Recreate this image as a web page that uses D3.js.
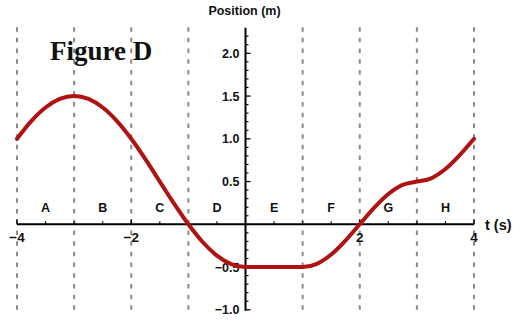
<!DOCTYPE html>
<html>
<head>
<meta charset="utf-8">
<script src="https://cdn.jsdelivr.net/npm/d3@7"></script>
<style>
html,body{margin:0;padding:0;background:#fff;}
svg{display:block;}
text{font-family:"Liberation Sans",Arial,sans-serif;font-weight:bold;fill:#111;}
</style>
</head>
<body>
<svg id="chart" width="527" height="329"></svg>
<script>
// Data
const times = [-4,-3.75,-3.5,-3.25,-3,-2.75,-2.5,-2.25,-2,-1.75,-1.5,-1.25,-1,-0.75,-0.5,-0.25,0,0.25,0.5,0.75,1,1.25,1.5,1.75,2,2.25,2.5,2.75,3,3.25,3.5,3.75,4];
const positions = [1.0,1.207,1.366,1.466,1.5,1.466,1.366,1.207,1.0,0.759,0.5,0.241,0,-0.207,-0.366,-0.466,-0.5,-0.5,-0.5,-0.5,-0.5,-0.462,-0.354,-0.191,0,0.191,0.354,0.462,0.5,0.538,0.646,0.809,1.0];
const intervalLabels = ["A","B","C","D","E","F","G","H"];
const intervalCenters = [-3.5,-2.5,-1.5,-0.5,0.5,1.5,2.5,3.5];
const dividerTimes = [-4,-3,-2,-1,1,2,3,4];
const xTickValues = [-4,-2,2,4];
const xTickLabels = ["\u22124","\u22122","2","4"];
const xMinorTicks = [-3.5,-3,-2.5,-1.5,-1,-0.5,0.5,1,1.5,2.5,3,3.5];
const yTickValues = [-1,-0.5,0.5,1,1.5,2];
const yTickLabels = ["\u22121.0","\u22120.5","0.5","1.0","1.5","2.0"];
const yMinorTicks = d3.range(-10,23).map(v=>v/10).filter(v=>Math.abs(v*2-Math.round(v*2))>1e-6);
const yTitle = "Position (m)";
const xTitle = "t (s)";
const figureTitle = "Figure D";

const svg = d3.select("#chart");
const x = d3.scaleLinear().domain([-4,4]).range([17,474]);
const y = d3.scaleLinear().domain([0,2]).range([224.3,53.3]);
const yTop = 2.3, yBottom = -1.0;

// dashed dividers
svg.append("g").selectAll("line").data(dividerTimes).join("line")
  .attr("x1",d=>x(d)).attr("x2",d=>x(d))
  .attr("y1",y(yTop)-0.5).attr("y2",y(yBottom)+1)
  .attr("stroke","#8a8a8a").attr("stroke-width",2)
  .attr("stroke-dasharray","4.5,6.2");

// x axis
const xAxisG = svg.append("g");
xAxisG.append("line").attr("x1",x(-4)).attr("x2",x(4)).attr("y1",y(0)).attr("y2",y(0))
  .attr("stroke","#000").attr("stroke-width",2);
xAxisG.selectAll(".maj").data(xTickValues).join("line").attr("class","maj")
  .attr("x1",d=>x(d)).attr("x2",d=>x(d)).attr("y1",y(0)).attr("y2",y(0)-5)
  .attr("stroke","#000").attr("stroke-width",1.3);
xAxisG.selectAll(".min").data(xMinorTicks).join("line").attr("class","min")
  .attr("x1",d=>x(d)).attr("x2",d=>x(d)).attr("y1",y(0)).attr("y2",y(0)-3)
  .attr("stroke","#000").attr("stroke-width",1.1);
xAxisG.selectAll("text").data(xTickValues).join("text")
  .attr("x",d=>x(d)).attr("y",y(0)+18)
  .attr("text-anchor","middle").attr("font-size",13.5)
  .text((d,i)=>xTickLabels[i]);

// y axis
const yAxisG = svg.append("g");
yAxisG.append("line").attr("x1",x(0)).attr("x2",x(0)).attr("y1",y(yTop)).attr("y2",y(yBottom)+1)
  .attr("stroke","#000").attr("stroke-width",2);
yAxisG.selectAll(".maj").data(yTickValues).join("line").attr("class","maj")
  .attr("x1",x(0)).attr("x2",x(0)+5).attr("y1",d=>y(d)).attr("y2",d=>y(d))
  .attr("stroke","#000").attr("stroke-width",1.3);
yAxisG.selectAll(".min").data(yMinorTicks).join("line").attr("class","min")
  .attr("x1",x(0)).attr("x2",x(0)+3).attr("y1",d=>y(d)).attr("y2",d=>y(d))
  .attr("stroke","#000").attr("stroke-width",1.1);
yAxisG.selectAll("text").data(yTickValues).join("text")
  .attr("x",x(0)-6).attr("y",d=>y(d)+4.5)
  .attr("text-anchor","end").attr("font-size",12.5)
  .text((d,i)=>yTickLabels[i]);

// interval labels
svg.append("g").selectAll("text").data(intervalLabels).join("text")
  .attr("x",(d,i)=>x(intervalCenters[i])).attr("y",211.5)
  .attr("text-anchor","middle").attr("font-size",12.5)
  .text(d=>d);

// curve
const pts = times.map((t,i)=>[t,positions[i]]);
svg.append("path").datum(pts)
  .attr("fill","none").attr("stroke","#b01212").attr("stroke-width",4)
  .attr("stroke-linecap","round")
  .attr("d",d3.line().x(d=>x(d[0])).y(d=>y(d[1])).curve(d3.curveMonotoneX));

// titles
svg.append("text").attr("x",x(0)-1).attr("y",15).attr("text-anchor","middle")
  .attr("font-size",12.5).text(yTitle);
svg.append("text").attr("x",485).attr("y",229.5).attr("text-anchor","start")
  .attr("font-size",14.5).style("font-weight","bold").text(xTitle);
svg.append("text").attr("x",50).attr("y",60)
  .style("font-family","'Liberation Serif','Times New Roman',serif")
  .attr("font-size",27).text(figureTitle);
</script>
</body>
</html>
